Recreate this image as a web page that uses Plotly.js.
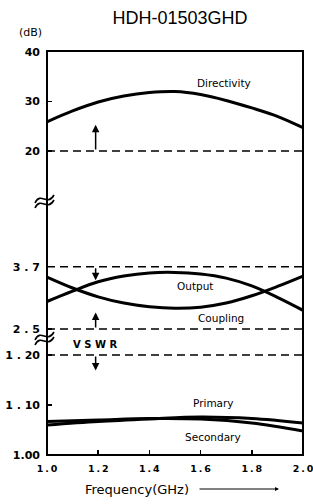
<!DOCTYPE html>
<html>
<head>
<meta charset="utf-8">
<script src="https://cdn.plot.ly/plotly-3.0.1.min.js"></script>
<style>html,body{margin:0;padding:0;background:#fff;}#chart{width:313px;height:504px;}</style>
</head>
<body>
<div id="chart"></div>
<script>
// ---- data ----
const freq = [1.0, 1.1, 1.2, 1.3, 1.4, 1.5, 1.6, 1.7, 1.8, 1.9, 2.0];
const directivity = [25.9, 28.1, 29.9, 31.1, 31.8, 32.0, 31.4, 30.2, 28.7, 27.0, 24.7];
const outputLoss = [3.03, 3.23, 3.41, 3.52, 3.58, 3.59, 3.56, 3.48, 3.33, 3.11, 2.86];
const couplingLoss = [3.50, 3.29, 3.12, 3.00, 2.93, 2.90, 2.92, 3.00, 3.14, 3.32, 3.52];
const vswrFreq = [1.0, 1.2, 1.4, 1.6, 1.8, 2.0];
const vswrPrimary = [1.060, 1.067, 1.072, 1.076, 1.073, 1.064];
const vswrSecondary = [1.067, 1.070, 1.073, 1.072, 1.064, 1.048];
const limitX = [1.0, 2.0];
const directivityMin = 20;
const lossMax = 3.7;
const lossMin = 2.5;
const vswrMax = 1.20;
const xTickVals = [1.0, 1.2, 1.4, 1.6, 1.8, 2.0];
const xTickText = ['1\u2009.\u20090', '1\u2009.\u20092', '1\u2009.\u20094', '1\u2009.\u20096', '1\u2009.\u20098', '2\u2009.\u20090'];
const dbTickVals = [20, 30, 40];
const dbTickText = ['20', '30', '40'];
const lossTickVals = [2.5, 3.7];
const lossTickText = ['2 . 5', '3 . 7'];
const vswrTickVals = [1.00, 1.10, 1.20];
const vswrTickText = ['1.00', '1 . 10', '1 . 20'];

// ---- layout geometry (pixels) ----
const W = 313, H = 504, ML = 47, MR = 10, MT = 51, MB = 49;
const PW = W - ML - MR, PH = H - MT - MB;
const px = v => (v - ML) / PW;
const py = v => (H - MB - v) / PH;

const curve = {width: 3, color: '#000', shape: 'spline', smoothing: 1};
const dash = {width: 1.4, color: '#000', dash: '8px,5px'};

const traces = [
  {x: freq, y: directivity, xaxis: 'x', yaxis: 'y', mode: 'lines', line: curve, name: 'Directivity'},
  {x: limitX, y: limitX.map(() => directivityMin), xaxis: 'x', yaxis: 'y', mode: 'lines', line: dash},
  {x: freq, y: outputLoss, xaxis: 'x', yaxis: 'y2', mode: 'lines', line: curve, name: 'Output'},
  {x: freq, y: couplingLoss, xaxis: 'x', yaxis: 'y2', mode: 'lines', line: curve, name: 'Coupling'},
  {x: limitX, y: limitX.map(() => lossMax), xaxis: 'x', yaxis: 'y2', mode: 'lines', line: dash},
  {x: limitX, y: limitX.map(() => lossMin), xaxis: 'x', yaxis: 'y2', mode: 'lines', line: dash},
  {x: vswrFreq, y: vswrPrimary, xaxis: 'x', yaxis: 'y3', mode: 'lines', line: curve, name: 'Primary'},
  {x: vswrFreq, y: vswrSecondary, xaxis: 'x', yaxis: 'y3', mode: 'lines', line: curve, name: 'Secondary'},
  {x: limitX, y: limitX.map(() => vswrMax), xaxis: 'x', yaxis: 'y3', mode: 'lines', line: dash}
];

const tickFontY = {family: 'DejaVu Sans', size: 11, color: '#000', weight: 'bold'};
const yBase = {showgrid: false, zeroline: false, showline: false, ticks: 'inside', ticklen: 5,
  tickwidth: 1.5, tickcolor: '#000', tickfont: tickFontY, tickmode: 'array', anchor: 'x',
  ticklabelstandoff: 6, fixedrange: true};

const d1 = py(203), d2 = py(340);

function breakPath(cy, off) {
  const pts = [[35, cy + 2 + off], [41, cy - 10 + off], [47, cy + 6 + off], [54, cy - 6 + off]];
  return 'M ' + px(pts[0][0]) + ',' + py(pts[0][1]) + ' C ' +
    pts.slice(1).map(p => px(p[0]) + ',' + py(p[1])).join(' ');
}

const shapes = [
  {type: 'rect', xref: 'paper', yref: 'paper', x0: 0, x1: 1, y0: 0, y1: 1, line: {color: '#000', width: 2}},
  {type: 'path', xref: 'paper', yref: 'paper', path: breakPath(203, -2), line: {color: '#000', width: 1.6}},
  {type: 'path', xref: 'paper', yref: 'paper', path: breakPath(203, 3), line: {color: '#000', width: 1.6}},
  {type: 'path', xref: 'paper', yref: 'paper', path: breakPath(340, -2), line: {color: '#000', width: 1.6}},
  {type: 'path', xref: 'paper', yref: 'paper', path: breakPath(340, 3), line: {color: '#000', width: 1.6}}
];

const lab = {family: 'DejaVu Sans', size: 10.5, color: '#000'};
function arrow(x, y, ay, yref) {
  return {x: x, y: y, ax: x, ay: ay, xref: 'x', yref: yref, axref: 'x', ayref: yref,
    showarrow: true, arrowhead: 2, arrowsize: 1, arrowwidth: 1.5, arrowcolor: '#000', text: ''};
}
function note(text, xref, yref, x, y, font) {
  return {text: text, xref: xref, yref: yref, x: x, y: y, xanchor: 'center', yanchor: 'middle',
    showarrow: false, font: font};
}

const annotations = [
  note('(dB)', 'paper', 'paper', px(30), py(33), {family: 'DejaVu Sans', size: 11, color: '#000'}),
  note('Directivity', 'x', 'y', 1.69, 33.7, lab),
  note('Output', 'x', 'y2', 1.58, 3.33, lab),
  note('Coupling', 'x', 'y2', 1.68, 2.71, lab),
  note('V S W R', 'paper', 'paper', px(95), py(344), {family: 'DejaVu Sans', size: 10, color: '#000', weight: 'bold'}),
  note('Primary', 'x', 'y3', 1.65, 1.105, lab),
  note('Secondary', 'x', 'y3', 1.65, 1.036, lab),
  arrow(1.19, 25.3, 20, 'y'),
  arrow(1.19, 3.44, 3.7, 'y2'),
  arrow(1.19, 2.82, 2.5, 'y2'),
  arrow(1.19, 1.169, 1.2, 'y3'),
  {text: 'Frequency(GHz)', xref: 'paper', yref: 'paper', x: px(83), y: py(489), xanchor: 'left',
    yanchor: 'middle', showarrow: false, font: {family: 'DejaVu Sans', size: 13, color: '#000'}},
  {text: '', xref: 'paper', yref: 'paper', x: px(279), y: py(489), ax: -81, ay: 0,
    showarrow: true, arrowhead: 2, arrowsize: 0.8, arrowwidth: 1, arrowcolor: '#000'}
];

const layout = {
  width: W, height: H,
  margin: {l: ML, r: MR, t: MT, b: MB, pad: 0},
  paper_bgcolor: '#fff', plot_bgcolor: '#fff',
  showlegend: false,
  title: {text: 'HDH-01503GHD', x: 180 / W, xanchor: 'center', y: 1 - 18 / H, yanchor: 'middle',
    yref: 'container', xref: 'container', font: {family: 'Liberation Sans', size: 18, color: '#000'}},
  xaxis: {range: [1, 2], tickmode: 'array', tickvals: xTickVals, ticktext: xTickText,
    ticks: 'inside', ticklen: 5, tickwidth: 1.5, tickcolor: '#000', showgrid: false, zeroline: false,
    showline: false, anchor: 'y3', fixedrange: true, ticklabelstandoff: 6, ticklabeloverflow: 'allow',
    tickfont: {family: 'DejaVu Sans', size: 9.5, color: '#000', weight: 'bold'}},
  yaxis: Object.assign({}, yBase, {domain: [d1, 1], range: [20 - 52 / 4.95, 40 + 1 / 4.95],
    tickvals: dbTickVals, ticktext: dbTickText}),
  yaxis2: Object.assign({}, yBase, {domain: [d2, d1], range: [2.5 - 11 / 51.9, 3.7 + 63.7 / 51.9],
    tickvals: lossTickVals, ticktext: lossTickText}),
  yaxis3: Object.assign({}, yBase, {domain: [0, d2], range: [1.0, 1.0 + 115 / 500],
    tickvals: vswrTickVals, ticktext: vswrTickText}),
  shapes: shapes,
  annotations: annotations
};

Plotly.newPlot('chart', traces, layout, {staticPlot: true, displayModeBar: false});
</script>
</body>
</html>
